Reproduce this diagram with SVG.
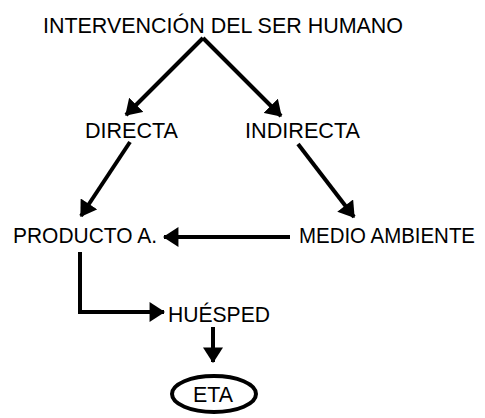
<svg xmlns="http://www.w3.org/2000/svg" width="485" height="418" viewBox="0 0 485 418">
<style>
text{font-family:"Liberation Sans",Arial,sans-serif;font-size:22px;fill:#000}
.c{fill:none;stroke:#000;stroke-width:4}
</style>
<defs>
<marker id="ah" markerUnits="userSpaceOnUse" markerWidth="16" markerHeight="20" refX="13" refY="9" orient="auto" viewBox="0 0 14 18">
<path d="M0,0 L14,9 L0,18 Z" fill="#000"/>
</marker>
</defs>
<rect width="485" height="418" fill="#fff"/>
<g id="connectors">
<line class="c" x1="203" y1="38" x2="126" y2="115" marker-end="url(#ah)"/>
<line class="c" x1="203" y1="38" x2="281" y2="116" marker-end="url(#ah)"/>
<line class="c" x1="130" y1="142" x2="81" y2="216" marker-end="url(#ah)"/>
<line class="c" x1="298" y1="144" x2="354" y2="217" marker-end="url(#ah)"/>
<line class="c" x1="290" y1="237" x2="164" y2="237" marker-end="url(#ah)"/>
<path class="c" d="M80,252 V312 H164" marker-end="url(#ah)"/>
<line class="c" x1="213" y1="327" x2="213" y2="362" marker-end="url(#ah)"/>
</g>
<g id="n-intervencion"><text x="43" y="33" textLength="360" lengthAdjust="spacingAndGlyphs">INTERVENCIÓN DEL SER HUMANO</text></g>
<g id="n-directa"><text x="85" y="138" textLength="93" lengthAdjust="spacingAndGlyphs">DIRECTA</text></g>
<g id="n-indirecta"><text x="245" y="138" textLength="115" lengthAdjust="spacingAndGlyphs">INDIRECTA</text></g>
<g id="n-producto"><text x="13" y="243" textLength="144" lengthAdjust="spacingAndGlyphs">PRODUCTO A.</text></g>
<g id="n-medio"><text transform="translate(299,243) scale(1,1.1)" x="0" y="0" style="font-size:20px" textLength="176" lengthAdjust="spacingAndGlyphs">MEDIO AMBIENTE</text></g>
<g id="n-huesped"><text x="168" y="322" textLength="102" lengthAdjust="spacingAndGlyphs">HUÉSPED</text></g>
<g id="n-eta"><ellipse cx="214" cy="394" rx="42" ry="18" fill="none" stroke="#000" stroke-width="4"/><text x="193" y="402" textLength="40" lengthAdjust="spacingAndGlyphs">ETA</text></g>
</svg>
